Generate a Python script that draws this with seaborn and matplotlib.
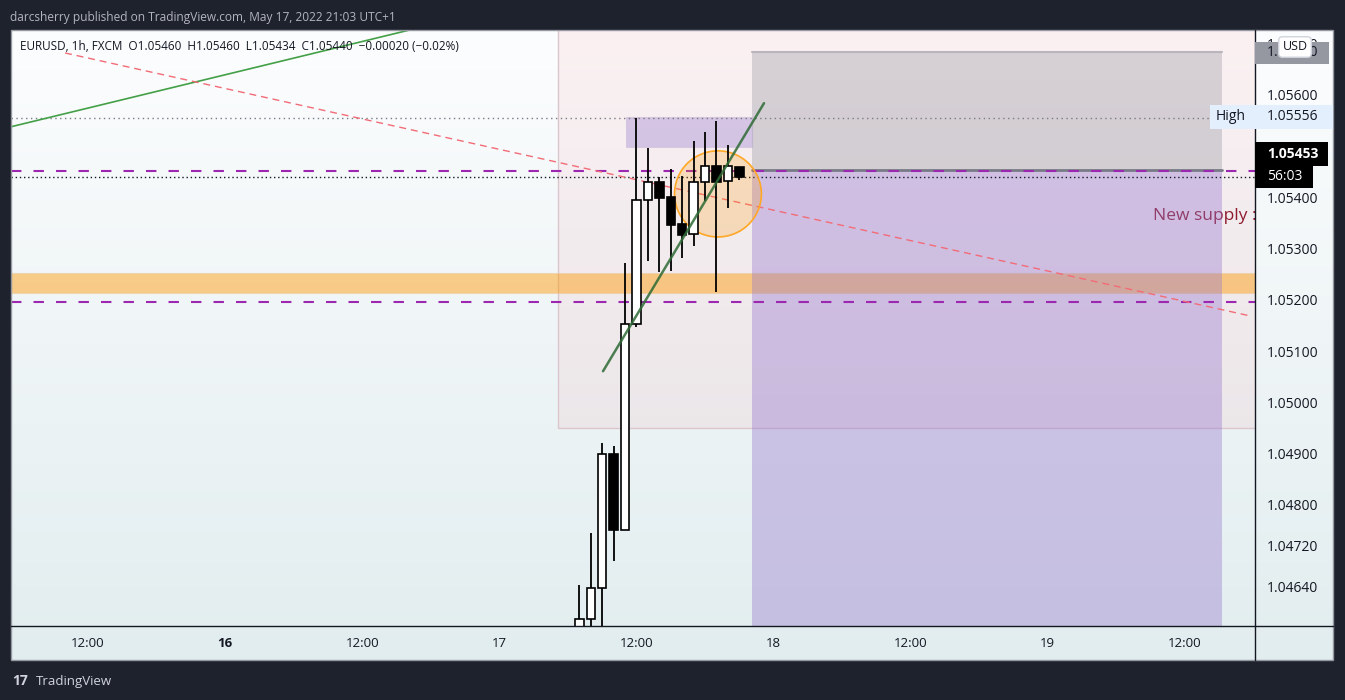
import numpy as np
import pandas as pd
import matplotlib
matplotlib.use("Agg")
import matplotlib.pyplot as plt
import seaborn as sns
from matplotlib.patches import Rectangle, Ellipse
from matplotlib.lines import Line2D

# ---------------- data (hours counted from 15 May 00:00) ----------------
hours = [55, 56, 57, 58, 59, 60, 61, 62, 63, 64, 65, 66, 67, 68, 69]
opens = [1.04540, 1.04578, 1.04638, 1.04900, 1.04751, 1.05153, 1.05395, 1.05430,
         1.05401, 1.05348, 1.05329, 1.05430, 1.05461, 1.05432, 1.05460]
highs = [1.04644, 1.04745, 1.04921, 1.04915, 1.05272, 1.05555, 1.05497, 1.05440,
         1.05456, 1.05442, 1.05510, 1.05528, 1.05549, 1.05502, 1.05460]
lows = [1.04500, 1.04520, 1.04540, 1.04691, 1.04751, 1.05148, 1.05276, 1.05255,
        1.05257, 1.05282, 1.05305, 1.05393, 1.05216, 1.05380, 1.05434]
closes = [1.04578, 1.04638, 1.04900, 1.04751, 1.05153, 1.05395, 1.05430, 1.05399,
          1.05346, 1.05327, 1.05430, 1.05461, 1.05430, 1.05461, 1.05440]

price_ticks = [1.04640, 1.04720, 1.04800, 1.04900, 1.05000, 1.05100, 1.05200,
               1.05300, 1.05400, 1.05500, 1.05600, 1.05700]
time_ticks = [12, 24, 36, 48, 60, 72, 84, 96, 108]
time_labels = ["12:00", "16", "12:00", "17", "12:00", "18", "12:00", "19", "12:00"]

# drawings (time in hours, price)
pink_zone = (53.1, 125.0, 1.04951, 1.0590)
supply_box = (59.08, 70.11, 1.05499, 1.05557)
target_box = (70.11, 111.24, 1.05454, 1.05684)
stop_box = (70.11, 111.24, 1.0440, 1.05454)
orange_band = (1.05214, 1.05253)
purple_levels = [1.05452, 1.05196]
high_level = 1.05556
last_close = 1.05440
green_line_x, green_line_y = [5.26, 40.18], [1.05538, 1.05727]
red_line_x, red_line_y = [9.99, 113.69], [1.05682, 1.05169]
trend_x, trend_y = [57.07, 71.16], [1.05061, 1.05584]
circle_center = (67.13, 1.05407)
circle_size = (7.6, 0.00168)

# ---------------- figure ----------------
sns.set_theme(style="white")
plt.rcParams["font.family"] = ["Open Sans", "DejaVu Sans"]

W, H = 1345, 700
fig = plt.figure(figsize=(W / 100, H / 100), dpi=100, facecolor="#1e222d")


def fx(x):
    return x / W


def fy(y):
    return 1 - y / H


# background gradient panel
bg = fig.add_axes([fx(11), fy(660), fx(1333) - fx(11), fy(30) - fy(660)])
g = np.linspace(0, 1, 256)[:, None, None]
top = np.array([252, 253, 254]) / 255
bot = np.array([226, 237, 239]) / 255
img = top + (bot - top) * g
bg.imshow(img, aspect="auto", extent=[0, 1, 0, 1])
bg.set_axis_off()

ax = fig.add_axes([fx(11), fy(626), fx(1255) - fx(11), fy(30) - fy(626)])
ax.patch.set_alpha(0)
ax.set_xlim(5.26, 114.13)
ax.set_ylim(1.045639, 1.057268)
for s in ax.spines.values():
    s.set_visible(False)
ax.grid(False)

# zones
x0, x1, y0, y1 = pink_zone
ax.add_patch(Rectangle((x0, y0), x1 - x0, y1 - y0, facecolor="#f23645", alpha=0.06,
                       edgecolor="none", zorder=1))
ax.add_patch(Rectangle((x0, y0), x1 - x0, y1 - y0, facecolor="none",
                       edgecolor="#dcc6ce", lw=1, zorder=1))
ax.axhspan(orange_band[0], orange_band[1], facecolor="#ff9800", alpha=0.45,
           edgecolor="#e8c9a0", lw=0.8, zorder=2)

ax.text(105.2, 1.05364, "New supply :", color="#8e1b2e", fontsize=12.5,
        va="center", ha="left", clip_on=True, zorder=2.5)

x0, x1, y0, y1 = target_box
ax.add_patch(Rectangle((x0, y0), x1 - x0, y1 - y0, facecolor="#787b86", alpha=0.27,
                       edgecolor="none", zorder=3))
ax.plot([x0, x1], [y1, y1], color="#b8b6bc", lw=1.5, zorder=3)
x0, x1, y0, y1 = stop_box
ax.add_patch(Rectangle((x0, y0), x1 - x0, y1 - y0, facecolor="#9575cd", alpha=0.38,
                       edgecolor="none", zorder=3))
ax.plot([x0, x1], [y1, y1], color="#787b86", lw=2, zorder=3.2)

x0, x1, y0, y1 = supply_box
ax.add_patch(Rectangle((x0, y0), x1 - x0, y1 - y0, facecolor="#9575cd", alpha=0.34,
                       edgecolor="#b9a9cc", lw=0.8, zorder=3))

# levels
for lv in purple_levels:
    ln = ax.axhline(lv, color="#9c27b0", lw=1.5, zorder=4)
    ln.set_dashes((5, 5.8))
ax.hlines(high_level, 5.26, 110.19, color="#787b86", lw=1, linestyles=(0, (1, 2.5)), zorder=4)
ax.axhline(last_close, color="#131722", lw=1, linestyle=(0, (1, 2)), zorder=4)

# trend lines via seaborn
sns.lineplot(x=green_line_x, y=green_line_y, ax=ax, color="#43a047", lw=1.2, zorder=4)
sns.lineplot(x=red_line_x, y=red_line_y, ax=ax, color="#f26c78", lw=1.0, zorder=4,
             linestyle="--")
ax.lines[-1].set_dashes((5, 3.5))

# circle
ax.add_patch(Ellipse(circle_center, circle_size[0], circle_size[1], facecolor="#ff9800",
                     alpha=0.22, edgecolor="none", zorder=4.5))
ax.add_patch(Ellipse(circle_center, circle_size[0], circle_size[1], facecolor="none",
                     edgecolor="#ffa726", lw=1.2, zorder=4.6))

# candles
df = pd.DataFrame(dict(hour=hours, open=opens, high=highs, low=lows, close=closes))
up = df["close"] >= df["open"]
ax.vlines(df["hour"], df["low"], df["high"], color="black", lw=1.3, zorder=5)
bottoms = np.minimum(df["open"], df["close"])
heights = np.maximum(np.abs(df["close"] - df["open"]), 0.00002)
ax.bar(df["hour"], heights, bottom=bottoms, width=0.74,
       color=np.where(up, "white", "black"), edgecolor="black", lw=1.2, zorder=6)

sns.lineplot(x=trend_x, y=trend_y, ax=ax, color="#2e6b35", lw=1.8, alpha=0.85, zorder=7)

# axes ticks
ax.yaxis.tick_right()
ax.set_yticks(price_ticks)
ax.set_yticklabels([f"{p:.5f}" for p in price_ticks])
ax.set_xticks(time_ticks)
ax.set_xticklabels(time_labels)
ax.tick_params(axis="y", length=0, pad=8.5, labelsize=10, labelcolor="#131722")
ax.tick_params(axis="x", length=0, pad=8, labelsize=9.5, labelcolor="#131722")
for lab in ax.get_xticklabels():
    if lab.get_text() == "16":
        lab.set_fontweight("bold")
ax.set_xlabel("")
ax.set_ylabel("")

# frame lines
fig.add_artist(Rectangle((fx(11), fy(660)), fx(1333) - fx(11), fy(30) - fy(660),
                         transform=fig.transFigure, facecolor="none",
                         edgecolor="#9598a1", lw=1, zorder=10))
fig.add_artist(Line2D([fx(11), fx(1333)], [fy(626), fy(626)], color="#131722", lw=1,
                      transform=fig.transFigure, zorder=10))
fig.add_artist(Line2D([fx(1255), fx(1255)], [fy(30), fy(660)], color="#131722", lw=1,
                      transform=fig.transFigure, zorder=10))


def box(xa, ya, xb, yb, color, z=11):
    fig.add_artist(Rectangle((fx(xa), fy(yb)), fx(xb) - fx(xa), fy(ya) - fy(yb),
                             transform=fig.transFigure, facecolor=color,
                             edgecolor="none", zorder=z))


# price labels on the axis
box(1255, 42, 1329, 64, "#9598a1")
fig.text(fx(1267), fy(53), "1.05680", color="#131722", fontsize=10, va="center", zorder=12)
fig.text(fx(1295), fy(47), "USD", color="#131722", fontsize=9, va="center", ha="center",
         zorder=13, bbox=dict(boxstyle="round,pad=0.3", fc="white", ec="#d1d4dc", lw=1))
box(1210, 105, 1333, 129, "#e3effd")
fig.text(fx(1216), fy(117), "High", color="#131722", fontsize=10, va="center", zorder=12)
fig.text(fx(1267), fy(117), "1.05556", color="#131722", fontsize=10, va="center", zorder=12)
box(1255, 142, 1328, 166, "#000000")
fig.text(fx(1267), fy(154), "1.05453", color="white", fontsize=10, fontweight="bold",
         va="center", zorder=12)
box(1255, 166, 1313, 188, "#000000")
fig.text(fx(1267), fy(177), "56:03", color="white", fontsize=10, va="center", zorder=12)

# header / legend / footer
fig.text(fx(10), fy(17), "darcsherry published on TradingView.com, May 17, 2022 21:03 UTC+1",
         color="#b2b5be", fontsize=8.6, va="center")
fig.text(fx(20), fy(46),
         "EURUSD, 1h, FXCM  O1.05460  H1.05460  L1.05434  C1.05440  \u22120.00020 (\u22120.02%)",
         color="#131722", fontsize=8.5, va="center", zorder=12)
fig.text(fx(12), fy(681), "17", color="#d1d4dc", fontsize=10, fontweight="bold", va="center")
fig.text(fx(36), fy(681), "TradingView", color="#d1d4dc", fontsize=9.5, va="center")

fig.savefig("out.png", dpi=100, facecolor=fig.get_facecolor())
